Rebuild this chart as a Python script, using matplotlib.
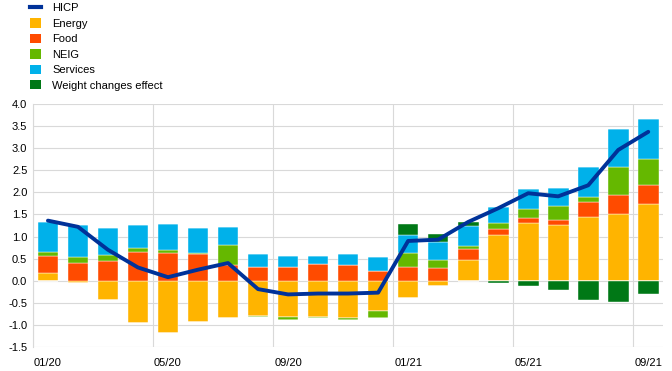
import numpy as np
import matplotlib
matplotlib.use("Agg")
import matplotlib.pyplot as plt
from matplotlib.lines import Line2D
from matplotlib.patches import Patch

months = ["01/20", "02/20", "03/20", "04/20", "05/20", "06/20", "07/20",
          "08/20", "09/20", "10/20", "11/20", "12/20", "01/21", "02/21",
          "03/21", "04/21", "05/21", "06/21", "07/21", "08/21", "09/21"]

energy   = [0.18, -0.05, -0.44, -0.96, -1.19, -0.93, -0.84, -0.79, -0.83, -0.81, -0.84,
            -0.69, -0.39, -0.13, 0.46, 1.03, 1.30, 1.25, 1.44, 1.52, 1.73]
food     = [0.39, 0.39, 0.45, 0.66, 0.63, 0.60, 0.36, 0.31, 0.32, 0.38, 0.35,
            0.23, 0.31, 0.29, 0.25, 0.13, 0.12, 0.12, 0.35, 0.43, 0.43]
neig     = [0.09, 0.14, 0.14, 0.09, 0.06, 0.03, 0.44, -0.04, -0.07, -0.04, -0.06,
            -0.15, 0.32, 0.18, 0.07, 0.14, 0.21, 0.33, 0.11, 0.63, 0.59]
services = [0.68, 0.72, 0.60, 0.52, 0.59, 0.56, 0.41, 0.30, 0.25, 0.19, 0.25,
            0.31, 0.40, 0.40, 0.45, 0.37, 0.45, 0.39, 0.68, 0.86, 0.90]
weight   = [0, 0, 0, 0, 0, 0, 0, 0, 0, 0, 0,
            0, 0.25, 0.18, 0.10, -0.06, -0.12, -0.22, -0.44, -0.49, -0.30]
hicp     = [1.36, 1.22, 0.70, 0.30, 0.08, 0.25, 0.40, -0.19, -0.31, -0.29, -0.29,
            -0.27, 0.90, 0.93, 1.33, 1.64, 1.98, 1.91, 2.16, 2.96, 3.37]

COLORS = {"Energy": "#FFB400", "Food": "#FF4B00", "NEIG": "#65B800",
          "Services": "#00B1EA", "Weight changes effect": "#007816"}
LINE_COLOR = "#003299"
GRID = "#d9d9d9"

plt.rcParams["font.family"] = ["Liberation Sans", "DejaVu Sans"]

fig = plt.figure(figsize=(6.72, 3.71), dpi=100)
ax = fig.add_axes([0.049, 0.0647, 0.938, 0.655])

x = np.arange(len(months))
series = [("Energy", energy), ("Food", food), ("NEIG", neig),
          ("Services", services), ("Weight changes effect", weight)]

# positives stack up from zero, negatives stack down
pos_base = np.zeros(len(x))
neg_base = np.zeros(len(x))
for name, vals in series:
    v = np.array(vals, dtype=float)
    pos = np.where(v > 0, v, 0)
    neg = np.where(v < 0, v, 0)
    ax.bar(x, pos, bottom=pos_base, width=0.69, color=COLORS[name],
           edgecolor="white", linewidth=0.3, zorder=3)
    ax.bar(x, neg, bottom=neg_base, width=0.69, color=COLORS[name],
           edgecolor="white", linewidth=0.3, zorder=3)
    pos_base += pos
    neg_base += neg

ax.plot(x, hicp, color=LINE_COLOR, linewidth=2.8, zorder=4,
        solid_capstyle="round", solid_joinstyle="round")

ax.set_xlim(-0.5, 20.5)
ax.set_ylim(-1.5, 4.0)
ax.set_yticks(np.arange(-1.5, 4.01, 0.5))
ax.set_yticklabels([f"{v:.1f}" for v in np.arange(-1.5, 4.01, 0.5)])
ax.set_xticks(x[::4])
ax.set_xticklabels(months[::4])
ax.set_xticks(np.arange(-0.5, 20.6, 4), minor=True)

ax.grid(axis="y", color=GRID, linewidth=0.8, zorder=0)
ax.grid(axis="x", which="minor", color=GRID, linewidth=0.8, zorder=0)
ax.tick_params(axis="both", which="both", length=0, labelsize=8, colors="black")
ax.tick_params(axis="x", pad=8)
ax.tick_params(axis="y", pad=4)
for s in ["top", "right", "bottom"]:
    ax.spines[s].set_visible(False)
ax.spines["left"].set_color(GRID)

handles = [Line2D([0], [0], color=LINE_COLOR, linewidth=3)]
labels = ["HICP"]
for name, _ in series:
    handles.append(Patch(facecolor=COLORS[name]))
    labels.append(name)
fig.legend(handles, labels, loc="upper left", bbox_to_anchor=(0.035, 1.01),
           frameon=False, fontsize=8, handlelength=1.0, handleheight=0.9,
           labelspacing=0.45, handletextpad=1.0, borderaxespad=0.2)

fig.savefig("out.png", dpi=100)
